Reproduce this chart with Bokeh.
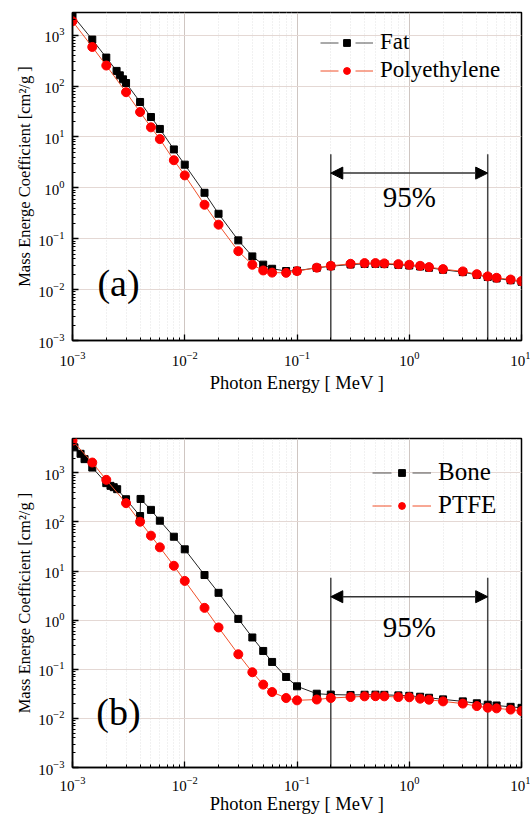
from bokeh.plotting import figure
from bokeh.layouts import column
from bokeh.models import (Arrow, NormalHead, Legend, LegendItem, Label,
                          FixedTicker, ColumnDataSource)
from bokeh.embed import file_html
from bokeh.resources import INLINE

SERIF = "Liberation Serif"

# ---------------- data (MeV, cm^2/g) ----------------
fat_e = [1.0e-3, 1.5e-3, 2.0e-3, 2.47e-3, 2.64e-3, 2.82e-3, 3.0e-3, 4.0e-3, 5.0e-3,
         6.0e-3, 8.0e-3, 1.0e-2, 1.5e-2, 2.0e-2, 3.0e-2, 4.0e-2, 5.0e-2, 6.0e-2,
         8.0e-2, 0.1, 0.15, 0.2, 0.3, 0.4, 0.5, 0.6, 0.8, 1.0, 1.25, 1.5, 2.0,
         3.0, 4.0, 5.0, 6.0, 8.0, 10.0]
fat_mu = [2470, 823, 364, 199, 163, 136, 115, 48.8, 24.7,
          14.4, 5.7, 2.86, 0.80, 0.31, 0.093, 0.045, 0.031, 0.0257,
          0.0232, 0.0236, 0.0268, 0.0288, 0.0312, 0.0320, 0.0321, 0.0318, 0.0307,
          0.0298, 0.0285, 0.0269, 0.0246, 0.0221, 0.0195, 0.0177, 0.0166, 0.0153, 0.0143]

pe_e = [1.0e-3, 1.5e-3, 2.0e-3, 3.0e-3, 4.0e-3, 5.0e-3, 6.0e-3, 8.0e-3, 1.0e-2,
        1.5e-2, 2.0e-2, 3.0e-2, 4.0e-2, 5.0e-2, 6.0e-2, 8.0e-2, 0.1, 0.15, 0.2,
        0.3, 0.4, 0.5, 0.6, 0.8, 1.0, 1.25, 1.5, 2.0, 3.0, 4.0, 5.0, 6.0, 8.0, 10.0]
pe_mu = [1885, 589, 254, 76, 31, 15.5, 9.1, 3.5, 1.76,
         0.466, 0.189, 0.057, 0.0308, 0.0238, 0.0216, 0.0214, 0.0231, 0.0270, 0.0294,
         0.0322, 0.0332, 0.0332, 0.0328, 0.0317, 0.0308, 0.0294, 0.0277, 0.0253,
         0.0228, 0.0201, 0.0182, 0.0171, 0.0158, 0.0147]

bone_e = [1.0e-3, 1.04e-3, 1.18e-3, 1.28e-3, 1.5e-3, 2.0e-3, 2.18e-3, 2.33e-3, 2.5e-3,
          3.0e-3, 4.0e-3, 4.04e-3, 5.0e-3, 6.0e-3, 8.0e-3, 1.0e-2, 1.5e-2, 2.0e-2,
          3.0e-2, 4.0e-2, 5.0e-2, 6.0e-2, 8.0e-2, 0.1, 0.15, 0.2, 0.3, 0.4, 0.5,
          0.6, 0.8, 1.0, 1.25, 1.5, 2.0, 3.0, 4.0, 5.0, 6.0, 8.0, 10.0]
bone_mu = [3600, 3300, 2440, 1900, 1280, 617, 543, 510, 465,
           290, 132, 294, 176, 106, 50, 27.7, 8.3, 3.6,
           1.06, 0.444, 0.236, 0.141, 0.0697, 0.045, 0.0318, 0.0305, 0.0300, 0.0303, 0.0304,
           0.0302, 0.0294, 0.0288, 0.0276, 0.0263, 0.0244, 0.0222, 0.0203, 0.0190,
           0.0183, 0.0172, 0.0164]

ptfe_e = [1.0e-3, 1.5e-3, 2.0e-3, 3.0e-3, 4.0e-3, 5.0e-3, 6.0e-3, 8.0e-3, 1.0e-2,
          1.5e-2, 2.0e-2, 3.0e-2, 4.0e-2, 5.0e-2, 6.0e-2, 8.0e-2, 0.1, 0.15, 0.2,
          0.3, 0.4, 0.5, 0.6, 0.8, 1.0, 1.25, 1.5, 2.0, 3.0, 4.0, 5.0, 6.0, 8.0, 10.0]
ptfe_mu = [4500, 1620, 720, 241, 101, 52.5, 30.4, 12.8, 6.3,
           1.78, 0.71, 0.202, 0.087, 0.0487, 0.0344, 0.026, 0.0233, 0.0242, 0.026,
           0.0272, 0.0281, 0.0283, 0.0281, 0.0272, 0.0269, 0.0252, 0.0240, 0.0222,
           0.0200, 0.0178, 0.0165, 0.0160, 0.0151, 0.0141]

band_edges = [0.2, 5.0]          # 95 % band limits (MeV)
band_label = "95%"
band_top = [4.56, 7.3]           # top of the vertical marker lines
band_arrow_y = [1.95, 3.0]
band_text_y = [0.65, 0.72]
panel_tags = ["(a)", "(b)"]
panel_tag_pos = [(2.57e-3, 0.0138), (2.57e-3, 0.0135)]
y_max = [2800, 5000]

major = [10.0 ** k for k in range(-3, 5)]
minor = [m * 10.0 ** k for k in range(-4, 5) for m in range(2, 10)]
x_major = [10.0 ** k for k in range(-3, 2)]


def make_panel(idx, frame_h, top_border, bottom_border, names, xs, ys,
               legend_font, legend_loc, glyph_w, dash, spacing,
               xlab_standoff, xaxis_standoff):
    p = figure(frame_width=449, frame_height=frame_h,
               x_axis_type="log", y_axis_type="log",
               x_range=(1e-3, 10), y_range=(1e-3, y_max[idx]),
               output_backend="svg", toolbar_location=None,
               min_border_left=72, min_border_right=9, min_border_top=top_border,
               min_border_bottom=bottom_border)
    p.background_fill_color = "white"
    p.outline_line_color = "black"
    p.outline_line_width = 1.5

    p.xaxis.ticker = FixedTicker(ticks=x_major, minor_ticks=minor)
    p.yaxis.ticker = FixedTicker(ticks=major, minor_ticks=minor)
    for ax in (p.xaxis[0], p.yaxis[0]):
        ax.major_tick_in = 6
        ax.major_tick_out = 0
        ax.minor_tick_in = 3
        ax.minor_tick_out = 0
        ax.axis_line_width = 1.5
        ax.major_tick_line_width = 1.3
        ax.major_label_text_font = SERIF
        ax.major_label_text_font_size = "15px"
        ax.major_label_text_color = "black"
        ax.axis_label_text_font = SERIF
        ax.axis_label_text_font_style = "normal"
        ax.axis_label_text_color = "black"
    p.xaxis.axis_label = "Photon Energy [ MeV ]"
    p.xaxis.axis_label_text_font_size = "18.5px"
    p.xaxis.major_label_standoff = xlab_standoff
    p.xaxis.axis_label_standoff = xaxis_standoff
    p.yaxis.axis_label = "Mass Energe Coefficient [cm\u00b2/g ]"
    p.yaxis.axis_label_text_font_size = "16.5px"
    p.yaxis.major_label_standoff = 8
    p.yaxis.axis_label_standoff = 1

    p.xgrid.grid_line_color = "#cfc6c2"
    p.xgrid.grid_line_width = 1
    p.xgrid.minor_grid_line_color = "#e2e2e2"
    p.xgrid.minor_grid_line_dash = "1 2"
    p.ygrid.grid_line_color = "#e4d8d4"
    p.ygrid.grid_line_width = 1

    # band annotation
    p.segment(x0=band_edges, y0=[1e-3, 1e-3], x1=band_edges,
              y1=[band_top[idx]] * 2, line_color="#444444", line_width=1.5)
    p.add_layout(Arrow(start=NormalHead(size=12, fill_color="black", line_color="black"),
                       end=NormalHead(size=12, fill_color="black", line_color="black"),
                       x_start=band_edges[0], x_end=band_edges[1],
                       y_start=band_arrow_y[idx], y_end=band_arrow_y[idx],
                       line_color="#333333", line_width=1.5))
    p.add_layout(Label(x=(band_edges[0] * band_edges[1]) ** 0.5, y=band_text_y[idx],
                       text=band_label, text_font=SERIF, text_font_size="29px",
                       text_align="center", text_baseline="middle", text_color="black"))
    p.add_layout(Label(x=panel_tag_pos[idx][0], y=panel_tag_pos[idx][1],
                       text=panel_tags[idx], text_font=SERIF, text_font_size="38px",
                       text_align="center", text_baseline="middle", text_color="black"))

    # data
    p.line(xs[0], ys[0], line_color="#222222", line_width=1)
    p.scatter(xs[0], ys[0], marker="square", size=7, fill_color="black",
              line_color="black")
    p.line(xs[1], ys[1], line_color="#f0502a", line_width=1)
    p.scatter(xs[1], ys[1], marker="circle", size=9, fill_color="#ff0000",
              line_color="#ff0000")

    # legend-only glyphs (one point far outside the visible range)
    off = ColumnDataSource(data=dict(x=[1e-9], y=[1e-9]))
    lg0 = p.line("x", "y", source=off, line_color="#555555", line_width=1,
                 line_dash=dash)
    mk0 = p.scatter("x", "y", source=off, marker="square", size=7,
                    fill_color="black", line_color="black")
    lg1 = p.line("x", "y", source=off, line_color="#f0502a", line_width=1,
                 line_dash=dash)
    mk1 = p.scatter("x", "y", source=off, marker="circle", size=8,
                    fill_color="#ff0000", line_color="#ff0000")
    legend = Legend(items=[LegendItem(label=names[0], renderers=[lg0, mk0]),
                           LegendItem(label=names[1], renderers=[lg1, mk1])],
                    location=legend_loc, padding=0, margin=0, spacing=spacing,
                    glyph_width=glyph_w, glyph_height=17, label_standoff=7,
                    label_text_font=SERIF, label_text_font_size=legend_font,
                    label_text_color="black",
                    border_line_color=None, background_fill_alpha=0)
    p.add_layout(legend, "center")
    return p


p1 = make_panel(0, 328, 12, 88, ["Fat", "Polyethylene"], [fat_e, pe_e], [fat_mu, pe_mu],
                "23px", (248, 257), 53, "18 17", 2, 11, 4)
p2 = make_panel(1, 329, 10, 53, ["Bone", "PTFE"], [bone_e, ptfe_e], [bone_mu, ptfe_mu],
                "25px", (300, 248), 59, "19 21", 5, 9, 0)

layout = column(p1, p2, spacing=0)
open("out.html", "w").write(file_html(layout, INLINE))
